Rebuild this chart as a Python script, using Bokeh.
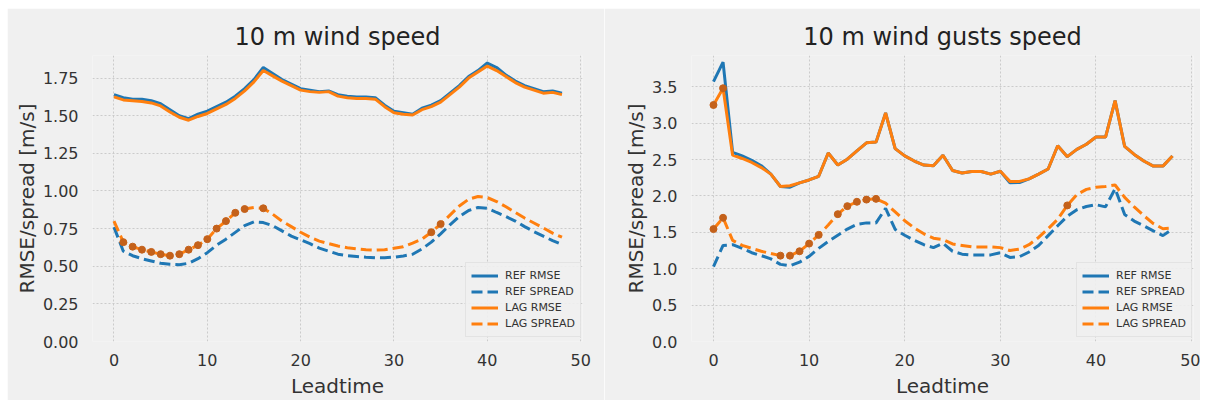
from bokeh.plotting import figure
from bokeh.layouts import row
from bokeh.models import (ColumnDataSource, CDSView, IndexFilter, Range1d,
                          NumeralTickFormatter, Legend, LegendItem)
from bokeh.embed import file_html
from bokeh.resources import INLINE

# ---------------- data ----------------
lead = list(range(49))
x_ticks = [0, 10, 20, 30, 40, 50]

# 10 m wind speed
ws_ref_rmse = [1.64, 1.62, 1.61, 1.61, 1.60, 1.58, 1.54, 1.50, 1.48, 1.51, 1.53, 1.56, 1.59, 1.63,
               1.68, 1.74, 1.82, 1.78, 1.74, 1.71, 1.68, 1.67, 1.66, 1.665, 1.64, 1.63, 1.625, 1.625,
               1.62, 1.57, 1.53, 1.52, 1.51, 1.55, 1.57, 1.60, 1.65, 1.70, 1.76, 1.80, 1.85, 1.82,
               1.77, 1.73, 1.70, 1.68, 1.66, 1.665, 1.65]
ws_ref_spread = [0.76, 0.60, 0.57, 0.55, 0.535, 0.52, 0.513, 0.51, 0.52, 0.55, 0.59, 0.64, 0.68, 0.725,
                 0.77, 0.795, 0.79, 0.77, 0.735, 0.70, 0.675, 0.65, 0.62, 0.60, 0.58, 0.57, 0.565, 0.56,
                 0.557, 0.557, 0.56, 0.568, 0.58, 0.615, 0.66, 0.715, 0.775, 0.83, 0.87, 0.89, 0.885,
                 0.857, 0.83, 0.80, 0.763, 0.73, 0.70, 0.67, 0.645]
ws_lag_rmse = [1.625, 1.605, 1.60, 1.595, 1.585, 1.565, 1.525, 1.49, 1.47, 1.495, 1.515, 1.545, 1.575,
               1.615, 1.665, 1.725, 1.80, 1.765, 1.73, 1.70, 1.67, 1.66, 1.655, 1.66, 1.63, 1.62, 1.615,
               1.615, 1.61, 1.56, 1.52, 1.51, 1.505, 1.54, 1.56, 1.59, 1.64, 1.69, 1.75, 1.79, 1.83,
               1.80, 1.76, 1.72, 1.69, 1.67, 1.65, 1.655, 1.64]
ws_lag_spread = [0.80, 0.66, 0.63, 0.61, 0.595, 0.58, 0.57, 0.58, 0.61, 0.64, 0.68, 0.75, 0.80, 0.855,
                 0.88, 0.89, 0.885, 0.846, 0.80, 0.763, 0.726, 0.693, 0.667, 0.65, 0.634, 0.623, 0.616,
                 0.61, 0.607, 0.61, 0.62, 0.63, 0.654, 0.68, 0.726, 0.78, 0.84, 0.90, 0.945, 0.963,
                 0.956, 0.93, 0.895, 0.857, 0.82, 0.787, 0.754, 0.72, 0.693]
ws_sig_spread = [1, 2, 3, 4, 5, 6, 7, 8, 9, 10, 11, 12, 13, 14, 16, 34, 35]
ws_sig_rmse = []
ws_y_ticks = [0.0, 0.25, 0.5, 0.75, 1.0, 1.25, 1.5, 1.75]

# 10 m wind gusts speed
wg_ref_rmse = [3.57, 3.84, 2.60, 2.55, 2.49, 2.415, 2.30, 2.13, 2.12, 2.18, 2.22, 2.27, 2.59, 2.425,
               2.505, 2.62, 2.73, 2.74, 3.14, 2.65, 2.55, 2.48, 2.425, 2.415, 2.56, 2.35, 2.315, 2.335,
               2.335, 2.30, 2.34, 2.18, 2.185, 2.235, 2.30, 2.37, 2.69, 2.54, 2.64, 2.71, 2.81, 2.81,
               3.31, 2.68, 2.57, 2.48, 2.41, 2.41, 2.55]
wg_ref_spread = [1.03, 1.32, 1.33, 1.28, 1.22, 1.18, 1.135, 1.06, 1.04, 1.09, 1.17, 1.28, 1.375, 1.46,
                 1.545, 1.61, 1.63, 1.63, 1.83, 1.54, 1.46, 1.39, 1.33, 1.29, 1.35, 1.24, 1.20, 1.19,
                 1.19, 1.19, 1.22, 1.155, 1.165, 1.23, 1.32, 1.455, 1.59, 1.72, 1.81, 1.855, 1.88,
                 1.85, 2.10, 1.745, 1.655, 1.59, 1.52, 1.455, 1.545]
wg_lag_rmse = [3.25, 3.48, 2.56, 2.515, 2.46, 2.39, 2.30, 2.13, 2.14, 2.18, 2.22, 2.27, 2.59, 2.425,
               2.505, 2.62, 2.73, 2.74, 3.14, 2.65, 2.55, 2.48, 2.425, 2.415, 2.56, 2.35, 2.315, 2.335,
               2.335, 2.30, 2.34, 2.20, 2.20, 2.235, 2.30, 2.37, 2.69, 2.54, 2.64, 2.71, 2.81, 2.81,
               3.31, 2.68, 2.57, 2.48, 2.41, 2.41, 2.55]
wg_lag_spread = [1.545, 1.70, 1.39, 1.32, 1.28, 1.24, 1.21, 1.18, 1.18, 1.24, 1.345, 1.465, 1.60, 1.75,
                 1.86, 1.92, 1.95, 1.96, 1.90, 1.78, 1.66, 1.56, 1.48, 1.42, 1.40, 1.34, 1.32, 1.30,
                 1.30, 1.30, 1.29, 1.25, 1.27, 1.33, 1.43, 1.55, 1.68, 1.87, 2.02, 2.09, 2.12, 2.13,
                 2.15, 1.98, 1.85, 1.73, 1.62, 1.55, 1.56]
wg_sig_spread = [0, 1, 7, 8, 9, 10, 11, 13, 14, 15, 16, 17, 37]
wg_sig_rmse = [0, 1]
wg_y_ticks = [0.0, 0.5, 1.0, 1.5, 2.0, 2.5, 3.0, 3.5]

# ---------------- style ----------------
BG = "#f0f0f0"
BLUE = "#1f77b4"
ORANGE = "#ff7f0e"
MARK = "#c4611a"
FONT = "DejaVu Sans"


def panel(title, ref_rmse, ref_spread, lag_rmse, lag_spread, sig_spread, sig_rmse,
          yticks, fmt, ymax, width, bl, br):
    p = figure(width=width, height=392, output_backend="svg", toolbar_location=None,
               x_range=Range1d(-2.3, 50.2), y_range=Range1d(0, ymax),
               min_border_left=bl, min_border_right=br, min_border_top=47, min_border_bottom=56,
               background_fill_color=BG, border_fill_color=BG, outline_line_color=None)
    src = ColumnDataSource(dict(x=lead, rr=ref_rmse, rs=ref_spread, lr=lag_rmse, ls=lag_spread))
    r1 = p.line("x", "rr", source=src, line_color=BLUE, line_width=3)
    r2 = p.line("x", "rs", source=src, line_color=BLUE, line_width=3, line_dash="11 5")
    r3 = p.line("x", "lr", source=src, line_color=ORANGE, line_width=3)
    r4 = p.line("x", "ls", source=src, line_color=ORANGE, line_width=3, line_dash="11 5")
    p.scatter("x", "ls", source=src, view=CDSView(filter=IndexFilter(sig_spread)),
              marker="circle", size=7, fill_color=MARK, line_color=MARK)
    if sig_rmse:
        p.scatter("x", "lr", source=src, view=CDSView(filter=IndexFilter(sig_rmse)),
                  marker="circle", size=7, fill_color=MARK, line_color=MARK)

    frame_w = width - bl - br
    legend = Legend(items=[LegendItem(label="REF RMSE", renderers=[r1]),
                           LegendItem(label="REF SPREAD", renderers=[r2]),
                           LegendItem(label="LAG RMSE", renderers=[r3]),
                           LegendItem(label="LAG SPREAD", renderers=[r4])],
                    location=(frame_w - 117, 4), background_fill_color=BG, background_fill_alpha=0.9,
                    border_line_color="#d6d6d6", border_line_width=1,
                    label_text_font=FONT, label_text_font_size="11px", label_text_color="#333333",
                    glyph_width=27, glyph_height=15, label_height=15, label_standoff=7,
                    spacing=1, padding=5, margin=0)
    p.add_layout(legend)

    p.title.text = title
    p.title.align = "center"
    p.title.text_font = FONT
    p.title.text_font_size = "24px"
    p.title.text_font_style = "normal"
    p.title.text_color = "#222222"

    p.xaxis.ticker = x_ticks
    p.yaxis.ticker = yticks
    p.yaxis.formatter = NumeralTickFormatter(format=fmt)
    p.xaxis.axis_label = "Leadtime"
    p.yaxis.axis_label = "RMSE/spread [m/s]"
    for ax in (p.xaxis[0], p.yaxis[0]):
        ax.axis_line_color = None
        ax.major_tick_line_color = None
        ax.minor_tick_line_color = None
        ax.major_label_text_font = FONT
        ax.major_label_text_font_size = "16px"
        ax.major_label_text_color = "#333333"
        ax.axis_label_text_font = FONT
        ax.axis_label_text_font_size = "20px"
        ax.axis_label_text_font_style = "normal"
        ax.axis_label_text_color = "#333333"
    p.xaxis.major_label_standoff = 6
    p.yaxis.major_label_standoff = 8
    p.xaxis.axis_label_standoff = 5
    p.yaxis.axis_label_standoff = 1

    for g in (p.xgrid[0], p.ygrid[0]):
        g.grid_line_color = "#cbcbcb"
        g.grid_line_width = 1
        g.grid_line_dash = "2 2"
    return p


p1 = panel("10 m wind speed", ws_ref_rmse, ws_ref_spread, ws_lag_rmse, ws_lag_spread,
           ws_sig_spread, ws_sig_rmse, ws_y_ticks, "0.00", 1.90, 597, 85, 22)
p2 = panel("10 m wind gusts speed", wg_ref_rmse, wg_ref_spread, wg_lag_rmse, wg_lag_spread,
           wg_sig_spread, wg_sig_rmse, wg_y_ticks, "0.0", 3.93, 596, 87, 7)
p1.margin = (8, 0, 0, 7)
p2.margin = (8, 0, 0, 0)

layout = row(p1, p2)
open("out.html", "w").write(file_html(layout, INLINE))
